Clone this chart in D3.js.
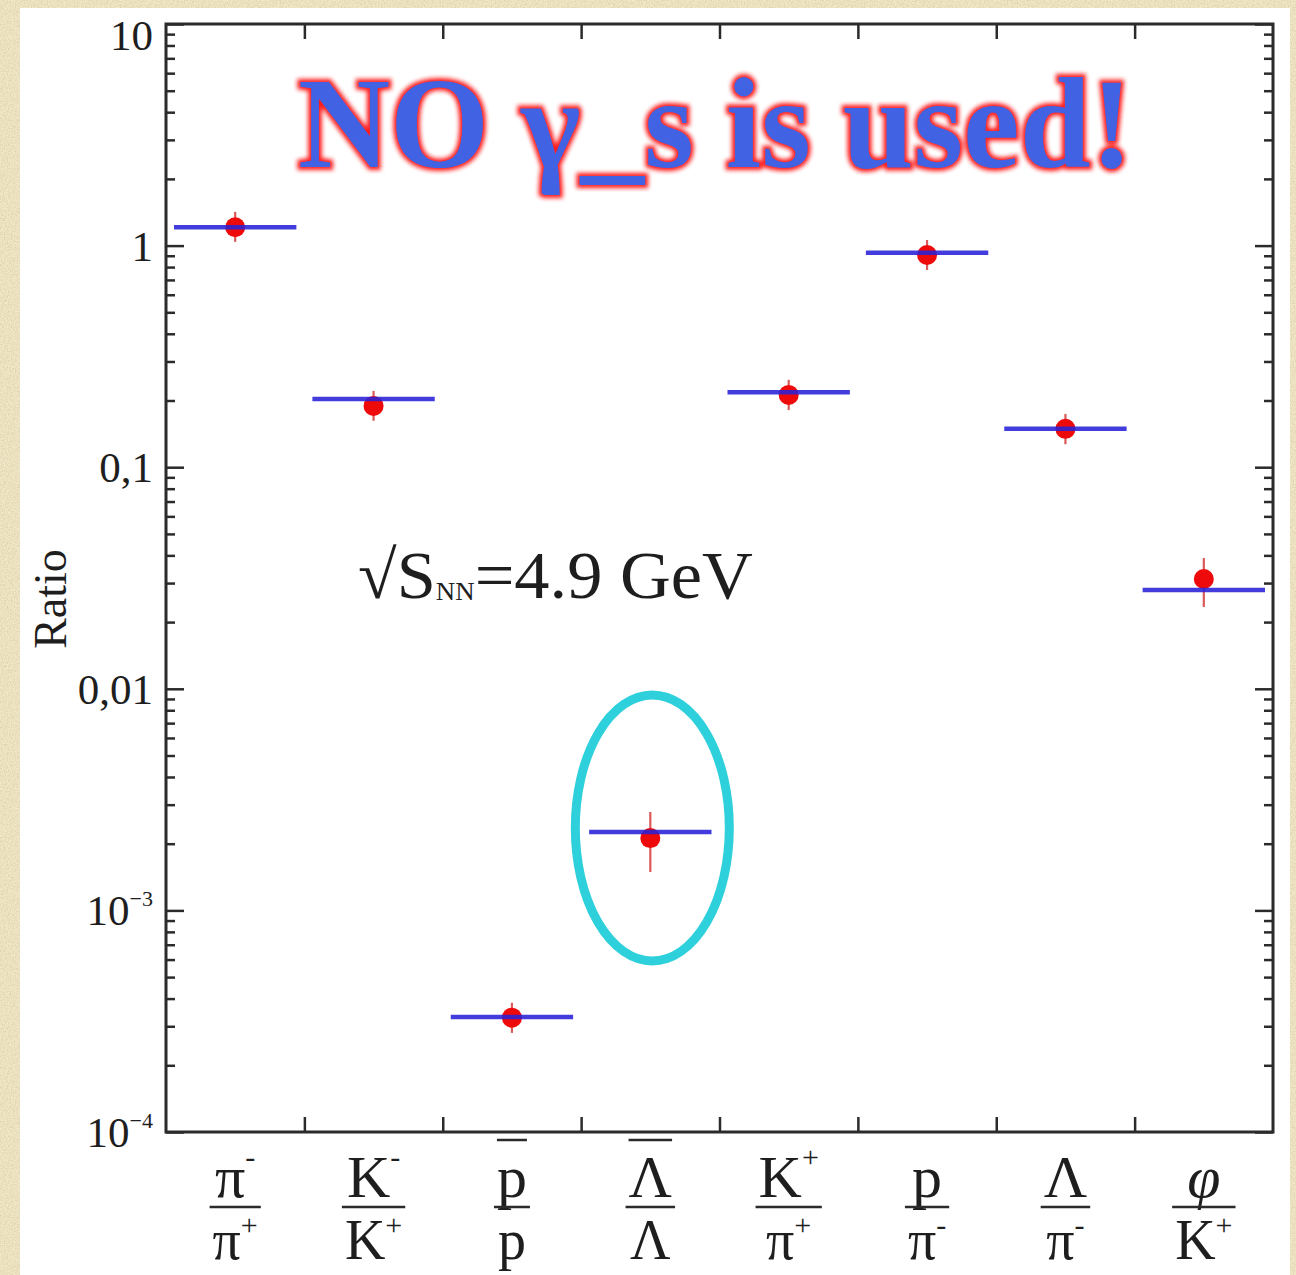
<!DOCTYPE html>
<html>
<head>
<meta charset="utf-8">
<script src="https://cdn.jsdelivr.net/npm/d3@7"></script>
<style>
    body { margin: 0; background: #efe6c6; }
    svg { display: block; }
    text { font-family: "Liberation Serif", "Times New Roman", serif; fill: #1e1e1e; }
</style>
</head>
<body>
<div id="chart"></div>
<script>
// ratio labels: numerator / denominator, with superscripts and overlines
const ratioNum = ["π", "K", "p", "Λ", "K", "p", "Λ", "φ"]
const ratioNumSup = ["-", "-", "", "", "+", "", "", ""]
const ratioNumBar = [false, false, true, true, false, false, false, false]
const ratioDen = ["π", "K", "p", "Λ", "π", "π", "π", "K"]
const ratioDenSup = ["+", "+", "", "", "+", "-", "-", "+"]

// model (blue lines) and measured ratios (red points)
const modelValues = [1.21, 0.203, 3.30e-4, 2.26e-3, 0.218, 0.929, 0.149, 0.0279]
const dataValues = [1.21, 0.189, 3.28e-4, 2.12e-3, 0.212, 0.907, 0.149, 0.0313]
const dataLow = [1.04, 0.162, 2.80e-4, 1.49e-3, 0.181, 0.776, 0.127, 0.0234]
const dataHigh = [1.42, 0.221, 3.83e-4, 2.78e-3, 0.248, 1.06, 0.174, 0.0389]

// y axis
const majorTicks = [1e-4, 1e-3, 0.01, 0.1, 1, 10]
const majorLabels = ["10", "10", "0,01", "0,1", "1", "10"]
const majorExps = ["−4", "−3", "", "", "", ""]

const W = 1296, H = 1275
const margin = { top: 24, right: 23, bottom: 143, left: 166 }

const svg = d3.select("#chart").append("svg")
    .attr("width", W)
    .attr("height", H)

const defs = svg.append("defs")
const paper = defs.append("filter").attr("id", "paper").attr("x", 0).attr("y", 0).attr("width", 1).attr("height", 1)
paper.append("feTurbulence").attr("type", "fractalNoise").attr("baseFrequency", "0.7").attr("numOctaves", 3).attr("seed", 4)
paper.append("feColorMatrix").attr("type", "matrix")
    .attr("values", "0 0 0 0 0.62  0 0 0 0 0.52  0 0 0 0 0.30  0 0 0 1.1 -0.38")
const glow = defs.append("filter").attr("id", "glow").attr("x", "-10%").attr("y", "-20%").attr("width", "120%").attr("height", "140%")
glow.append("feGaussianBlur").attr("stdDeviation", 2.2)

// parchment background + white slide panel
svg.append("rect").attr("width", W).attr("height", H).attr("fill", "#f1e8c8")
svg.append("rect").attr("width", W).attr("height", H).attr("filter", "url(#paper)")
svg.append("rect").attr("x", 20).attr("y", 8).attr("width", 1270).attr("height", H - 8).attr("fill", "#ffffff")

const x = d3.scaleBand()
    .domain(d3.range(ratioNum.length))
    .range([margin.left, W - margin.right])
const xEdge = d3.scaleLinear()
    .domain([0, ratioNum.length])
    .range([margin.left, W - margin.right])
const y = d3.scaleLog()
    .domain([1e-4, 10])
    .range([H - margin.bottom, margin.top])

const minorTicks = []
majorTicks.slice(0, -1).forEach((m) => {
    for (let k = 2; k <= 9; k++) minorTicks.push(m * k)
})

const plotW = W - margin.right - margin.left
const plotH = H - margin.bottom - margin.top

// axes ticks (all pointing inward)
const tickStyle = (g) => {
    g.select(".domain").remove()
    g.selectAll("line").attr("stroke", "#2b2b2b").attr("stroke-width", 2.5)
    g.selectAll("text").remove()
}
svg.append("g").attr("transform", `translate(${margin.left},0)`)
    .call(d3.axisLeft(y).tickValues(majorTicks).tickSize(-18)).call(tickStyle)
svg.append("g").attr("transform", `translate(${margin.left},0)`)
    .call(d3.axisLeft(y).tickValues(minorTicks).tickSize(-9)).call(tickStyle)
svg.append("g").attr("transform", `translate(${W - margin.right},0)`)
    .call(d3.axisRight(y).tickValues(majorTicks).tickSize(-18)).call(tickStyle)
svg.append("g").attr("transform", `translate(${W - margin.right},0)`)
    .call(d3.axisRight(y).tickValues(minorTicks).tickSize(-9)).call(tickStyle)
svg.append("g").attr("transform", `translate(0,${H - margin.bottom})`)
    .call(d3.axisBottom(xEdge).tickValues(d3.range(1, ratioNum.length)).tickSize(-15)).call(tickStyle)
svg.append("g").attr("transform", `translate(0,${margin.top})`)
    .call(d3.axisTop(xEdge).tickValues(d3.range(1, ratioNum.length)).tickSize(-15)).call(tickStyle)

svg.append("rect")
    .attr("x", margin.left).attr("y", margin.top)
    .attr("width", plotW).attr("height", plotH)
    .attr("fill", "none").attr("stroke", "#2b2b2b").attr("stroke-width", 3)

// y tick labels
majorTicks.forEach((v, i) => {
    const t = svg.append("text")
        .attr("x", margin.left - 13)
        .attr("y", Math.max(y(v) + 15, 50))
        .attr("text-anchor", "end")
        .style("font-size", "43px")
    t.append("tspan").text(majorLabels[i])
    if (majorExps[i]) {
        t.append("tspan").attr("dy", -19).style("font-size", "22px").text(majorExps[i])
    }
})

svg.append("text")
    .attr("transform", `translate(66,${margin.top + plotH / 2 + 21}) rotate(-90)`)
    .attr("text-anchor", "middle")
    .style("font-size", "46px")
    .text("Ratio")

// x labels as fractions
const numY = 1197, barY = 1207, denY = 1259
ratioNum.forEach((n, i) => {
    const cx = x(i) + x.bandwidth() / 2
    const g = svg.append("g").attr("transform", `translate(${cx},0)`)
    const italic = (s) => s === "φ" ? "italic" : null

    const num = g.append("text").attr("y", numY).attr("text-anchor", "middle").style("font-size", "60px")
    num.append("tspan").text(n).style("font-style", italic(n))
    if (ratioNumSup[i]) num.append("tspan").attr("dy", -30).style("font-size", "30px").text(ratioNumSup[i])

    const den = g.append("text").attr("y", denY).attr("text-anchor", "middle").style("font-size", "56px")
    den.append("tspan").text(ratioDen[i]).style("font-style", italic(ratioDen[i]))
    if (ratioDenSup[i]) den.append("tspan").attr("dy", -24).style("font-size", "30px").text(ratioDenSup[i])

    const nb = num.node().getBBox()
    const db = den.node().getBBox()
    const w = Math.max(nb.width, db.width) + 6
    g.append("line")
        .attr("x1", -w / 2).attr("x2", w / 2)
        .attr("y1", barY).attr("y2", barY)
        .attr("stroke", "#2b2b2b").attr("stroke-width", 2.5)
    if (ratioNumBar[i]) {
        g.append("line")
            .attr("x1", nb.x).attr("x2", nb.x + nb.width)
            .attr("y1", 1140).attr("y2", 1140)
            .attr("stroke", "#2b2b2b").attr("stroke-width", 2.5)
    }
})

// error bars, points, model lines
const pts = d3.range(ratioNum.length)
const cxOf = (i) => x(i) + x.bandwidth() / 2

svg.append("g").selectAll("line")
    .data(pts).enter().append("line")
    .attr("x1", cxOf).attr("x2", cxOf)
    .attr("y1", (i) => y(dataHigh[i]))
    .attr("y2", (i) => y(dataLow[i]))
    .attr("stroke", "#d23030").attr("stroke-width", 2.2).attr("opacity", 0.8)

svg.append("g").selectAll("circle")
    .data(pts).enter().append("circle")
    .attr("cx", cxOf)
    .attr("cy", (i) => y(dataValues[i]))
    .attr("r", 10)
    .attr("fill", "#ee0a0a")

svg.append("g").selectAll("line")
    .data(pts).enter().append("line")
    .attr("x1", (i) => x(i) + 8)
    .attr("x2", (i) => x(i) + x.bandwidth() - 8)
    .attr("y1", (i) => y(modelValues[i]))
    .attr("y2", (i) => y(modelValues[i]))
    .attr("stroke", "#2a22d8").attr("stroke-width", 4.5).attr("opacity", 0.88)

// helper: horizontally fit a text group to a target span
const fitText = (g, x0, width) => {
    const b = g.node().getBBox()
    g.attr("transform", `translate(${x0 - b.x * width / b.width},0) scale(${width / b.width},1)`)
}

// energy annotation
const eg = svg.append("g")
const et = eg.append("text").attr("y", 598).style("font-size", "68px")
et.append("tspan").text("√S")
et.append("tspan").attr("dy", 2).style("font-size", "26px").text("NN")
et.append("tspan").attr("dy", -2).text("=4.9 GeV")
fitText(eg, 358, 395)

// highlight around the anti-Lambda ratio
svg.append("ellipse")
    .attr("cx", cxOf(3) + 2)
    .attr("cy", y(modelValues[3]) - 4)
    .attr("rx", 77).attr("ry", 133)
    .attr("fill", "none")
    .attr("stroke", "#2ed0dc").attr("stroke-width", 9)

// headline with red glow
const tg = svg.append("g")
const title = "NO γ_s is used!"
tg.append("text").attr("y", 167)
    .style("font-size", "129px").style("font-weight", "bold")
    .style("fill", "#ff1a1a").attr("stroke", "#ff1a1a").attr("stroke-width", 6)
    .attr("filter", "url(#glow)")
    .text(title)
tg.append("text").attr("y", 167)
    .style("font-size", "129px").style("font-weight", "bold")
    .style("fill", "#4262e4")
    .text(title)
fitText(tg, 298, 835)
</script>
</body>
</html>
